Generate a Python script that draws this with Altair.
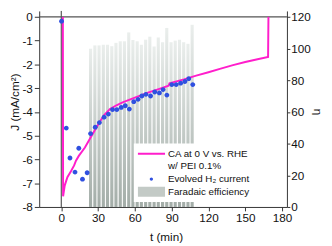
import altair as alt
import pandas as pd

# ---- data ----
# CA curve at 0 V vs. RHE (t in min, J in mA/cm2)
ca_t = [1.3, 1.5, 2.8, 5.0, 7.9, 10.5, 12.0, 14.3, 19.3, 24.4, 29.5, 34.6, 39.7, 45.0, 50.0, 60.0,
        70.0, 80.0, 87.5, 88.2, 100.0, 110.0, 120.0, 130.0, 140.0, 150.0, 160.0, 168.6, 168.9]
ca_j = [0.0, -7.55, -7.1, -6.75, -6.5, -6.25, -6.05, -5.85, -5.5, -5.03, -4.58, -4.15, -3.88, -3.72,
        -3.6, -3.4, -3.2, -3.03, -2.9, -2.8, -2.63, -2.47, -2.33, -2.18, -2.03, -1.9, -1.78, -1.69, 0.0]

# Evolved H2 current
h2_t = [0.25, 4.1, 7.1, 11.2, 14.3, 17.3, 21.1, 23.9, 27.7, 31.1, 34.9, 38.4, 41.8, 45.3, 48.9, 52.2,
        55.5, 59.1, 62.6, 65.7, 69.0, 72.8, 76.2, 80.0, 83.0, 86.1, 90.1, 93.7, 97.3, 100.8, 103.9, 107.2]
h2_j = [-0.18, -4.68, -5.94, -6.53, -5.53, -6.83, -6.56, -4.91, -4.64, -4.45, -4.22, -4.09, -3.9, -3.9,
        -3.81, -3.74, -3.88, -3.57, -3.47, -3.33, -3.26, -3.33, -3.16, -3.2, -3.06, -3.29, -2.85, -2.85,
        -2.79, -2.72, -2.6, -2.85]

# Faradaic efficiency (eta, %)
fe_t = [23.9, 27.4, 30.8, 34.3, 37.7, 41.2, 44.6, 48.1, 51.5, 55.0, 58.4, 61.9, 65.3, 68.8, 72.2,
        75.7, 79.1, 82.6, 86.0, 89.5, 92.9, 96.4, 99.8, 103.3, 106.7]
fe_eta = [99.9, 102.0, 102.0, 102.4, 102.4, 101.5, 103.6, 104.6, 104.6, 110.2, 105.4, 104.6, 102.4,
          105.6, 107.5, 101.3, 107.0, 104.0, 113.0, 104.0, 105.0, 105.6, 104.0, 103.0, 115.0]

zero_t = [0]
zero_j = [0]

legend_names = ["CA at 0 V vs. RHE", "w/ PEI 0.1%", "Evolved H\u2082 current", "Faradaic efficiency"]
x_ticks = [0, 30, 60, 90, 120, 150, 180]
j_ticks = [-8, -7, -6, -5, -4, -3, -2, -1, 0]
eta_ticks = [0, 20, 40, 60, 80, 100, 120]

# ---- styles ----
PINK = "#ff1ecb"
BLUE = "#3050e0"
GRAY = "#c3cac6"
FONT = "Liberation Sans"

ca_df = pd.DataFrame({"t": ca_t, "j": ca_j, "k": list(range(len(ca_t)))})
h2_df = pd.DataFrame({"t": h2_t, "j": h2_j, "series": legend_names[2]})
fe_df = pd.DataFrame({"t": fe_t, "eta": fe_eta})

xs = alt.Scale(domain=[-14, 180], nice=False, zero=False)
js = alt.Scale(domain=[-8, 0.25], nice=False, zero=False)
es = alt.Scale(domain=[0, 123.75], nice=False, zero=True)

x_axis = alt.Axis(values=x_ticks, title="t (min)", tickSize=4, labelPadding=2,
                  titleX=130, titleY=30, titleBaseline="middle")
j_axis = alt.Axis(orient="left", values=j_ticks, labelExpr="'' + datum.value",
                  title="J (mA/cm\u00b2)", tickSize=5, labelPadding=2,
                  titleX=-25, titleY=93, titleBaseline="middle")
e_axis = alt.Axis(orient="right", values=eta_ticks, title="\u03b7", tickSize=3, labelPadding=1,
                  titleX=31, titleY=103, titleBaseline="middle")

X = alt.X("t:Q", scale=xs, axis=x_axis)

grad = alt.Gradient(
    gradient="linear",
    stops=[alt.GradientStop(color="#eaeeec", offset=0),
           alt.GradientStop(color="#a3ada8", offset=1)],
    x1=0, x2=0, y1=0, y2=1,
)

bars = alt.Chart(fe_df).mark_bar(width=3.2, fill=grad).encode(
    x=X,
    y=alt.Y("eta:Q", scale=es, axis=e_axis),
)

rule_t = alt.Chart(pd.DataFrame({"t": zero_t})).mark_rule(color="#333333", strokeWidth=1).encode(x=X)
rule_j = alt.Chart(pd.DataFrame({"j": zero_j})).mark_rule(color="#555555", strokeWidth=1.2).encode(
    y=alt.Y("j:Q", scale=js, axis=j_axis))

line = alt.Chart(ca_df).mark_line(color=PINK, strokeWidth=2).encode(
    x=X, y=alt.Y("j:Q", scale=js, axis=j_axis), order="k:Q")

shape_paths = [
    "M-1,-0.07H1V0.07H-1Z",
    "M0,0L0,0Z",
    "M-0.12,0A0.12,0.12 0 1,0 0.12,0A0.12,0.12 0 1,0 -0.12,0Z",
    "M-1,-0.36H1V0.36H-1Z",
]

leg = alt.Legend(orient="none", legendX=97, legendY=136, title=None, symbolSize=784,
                 labelFont=FONT, labelFontSize=10, labelColor="#111111", fillColor="white",
                 padding=4, clipHeight=12.7, rowPadding=0, labelOffset=3,
                 symbolStrokeWidth=0, symbolOpacity=1, labelLimit=300)

points = alt.Chart(h2_df).mark_point(filled=True, size=1700, opacity=1).encode(
    x=X,
    y=alt.Y("j:Q", scale=js, axis=j_axis),
    color=alt.Color("series:N", scale=alt.Scale(domain=legend_names,
                                                range=[PINK, "#ffffff", BLUE, GRAY]), legend=leg),
    shape=alt.Shape("series:N", scale=alt.Scale(domain=legend_names, range=shape_paths), legend=leg),
)

chart = alt.layer(bars, alt.layer(rule_t, rule_j, line, points)).resolve_scale(
    y="independent"
).properties(
    width=254, height=201,
    padding={"left": 32, "top": 0, "right": 38, "bottom": 37},
    autosize=alt.AutoSizeParams(type="none"),
).configure_view(stroke=None).configure_axis(
    labelFont=FONT, titleFont=FONT, labelFontSize=12, titleFontSize=12,
    titleFontWeight="normal", labelColor="#111111", titleColor="#111111",
    domainColor="#333333", tickColor="#333333", grid=False,
)

chart.save("out.html", embed_options={"renderer": "svg", "actions": False})
